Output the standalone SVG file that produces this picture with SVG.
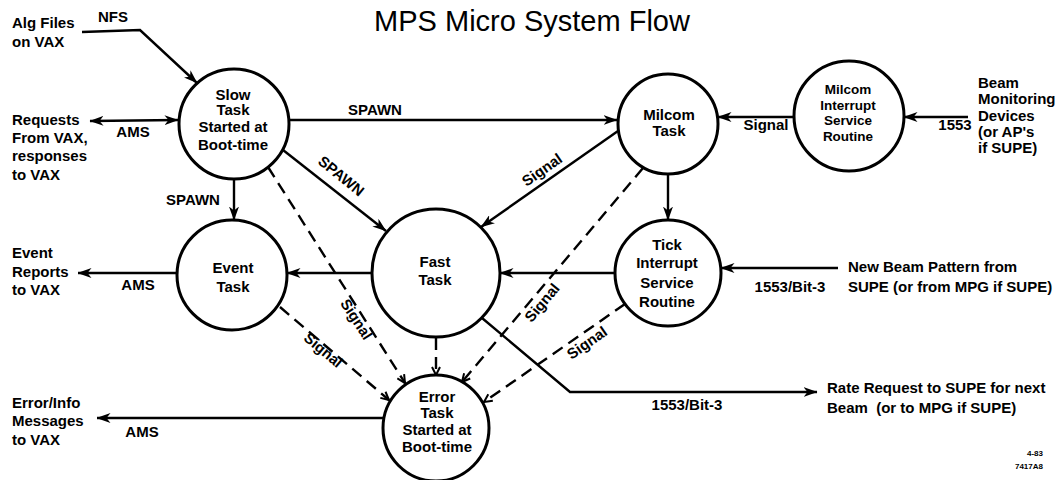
<svg xmlns="http://www.w3.org/2000/svg" width="1055" height="480" viewBox="0 0 1055 480">
<defs>
<style>
text{font-family:"Liberation Sans",Arial,sans-serif;font-weight:bold;font-size:15px;fill:#000}
.c{text-anchor:middle}
.sm{font-size:13.5px}
.node{fill:#fff;stroke:#000;stroke-width:3}
.ln{fill:none;stroke:#000;stroke-width:2.4}
.ds{fill:none;stroke:#000;stroke-width:2.4;stroke-dasharray:12 7}
.title{font-weight:normal;font-size:29px}
.tiny{font-size:8px}
</style>
<marker id="ah" viewBox="0 0 14 10" refX="13.5" refY="5" markerWidth="14" markerHeight="10" markerUnits="userSpaceOnUse" orient="auto-start-reverse">
<path d="M0,0 L14,5 L0,10 L4,5 z" fill="#000"/>
</marker>
<marker id="dh" viewBox="0 0 10 10" refX="9" refY="5" markerWidth="10" markerHeight="10" markerUnits="userSpaceOnUse" orient="auto">
<path d="M1,1 L9,5 L1,9" fill="none" stroke="#000" stroke-width="2"/>
</marker>
</defs>
<rect width="1055" height="480" fill="#fff"/>
<text class="title c" x="532" y="31">MPS Micro System Flow</text>

<g id="connectors">
<polyline class="ln" points="82,32 140,30 197,83" marker-end="url(#ah)"/>
<line class="ln" x1="90" y1="121" x2="178" y2="120" marker-start="url(#ah)" marker-end="url(#ah)"/>
<line class="ln" x1="289" y1="120" x2="617" y2="120" marker-end="url(#ah)"/>
<line class="ln" x1="234" y1="179" x2="234" y2="220" marker-end="url(#ah)"/>
<line class="ln" x1="283" y1="150" x2="386" y2="231" marker-end="url(#ah)"/>
<line class="ln" x1="618" y1="131" x2="481" y2="227" marker-end="url(#ah)"/>
<line class="ln" x1="668" y1="174" x2="668" y2="220" marker-end="url(#ah)"/>
<line class="ln" x1="794" y1="117" x2="718" y2="117" marker-end="url(#ah)"/>
<line class="ln" x1="968" y1="117" x2="904" y2="117" marker-end="url(#ah)"/>
<line class="ln" x1="615" y1="273" x2="500" y2="273" marker-end="url(#ah)"/>
<line class="ln" x1="372" y1="273" x2="287" y2="273" marker-end="url(#ah)"/>
<line class="ln" x1="177" y1="273" x2="78" y2="273" marker-end="url(#ah)"/>
<line class="ln" x1="838" y1="268" x2="721" y2="268" marker-end="url(#ah)"/>
<line class="ln" x1="384" y1="418" x2="97" y2="418" marker-end="url(#ah)"/>
<polyline class="ln" points="482,318 570,392 817,392" marker-end="url(#ah)"/>
<line class="ds" x1="268" y1="167" x2="405" y2="383" marker-end="url(#dh)"/>
<line class="ds" x1="280" y1="307" x2="389" y2="400" marker-end="url(#dh)"/>
<line class="ds" x1="436" y1="338" x2="436" y2="375" marker-end="url(#dh)"/>
<line class="ds" x1="643" y1="168" x2="462" y2="382" marker-end="url(#dh)"/>
<line class="ds" x1="625" y1="304" x2="484" y2="402" marker-end="url(#dh)"/>
</g>

<g id="labels">
<text class="c" x="113" y="22">NFS</text>
<text class="c" x="133" y="137">AMS</text>
<text class="c" x="375" y="115">SPAWN</text>
<text class="c" x="193" y="205">SPAWN</text>
<text class="c" transform="translate(338,180) rotate(39)">SPAWN</text>
<text class="c" transform="translate(545,174) rotate(-35)">Signal</text>
<text class="c" x="766" y="130">Signal</text>
<text class="c" x="955" y="130">1553</text>
<text class="c" x="138" y="290">AMS</text>
<text class="c" x="142" y="437">AMS</text>
<text class="c" x="790" y="292">1553/Bit-3</text>
<text class="c" x="687" y="410">1553/Bit-3</text>
<text class="c" transform="translate(352,322) rotate(57)">Signal</text>
<text class="c" transform="translate(320,354) rotate(40)">Signal</text>
<text class="c" transform="translate(546,306) rotate(-50)">Signal</text>
<text class="c" transform="translate(590,347) rotate(-35)">Signal</text>
</g>

<g id="external-text">
<text x="12" y="28">Alg Files</text>
<text x="12" y="47">on VAX</text>
<text x="12" y="125">Requests</text>
<text x="12" y="143">From VAX,</text>
<text x="12" y="161">responses</text>
<text x="12" y="180">to VAX</text>
<text x="12" y="258">Event</text>
<text x="12" y="277">Reports</text>
<text x="12" y="295">to VAX</text>
<text x="12" y="408">Error/Info</text>
<text x="12" y="426">Messages</text>
<text x="12" y="445">to VAX</text>
<text x="978" y="88">Beam</text>
<text x="978" y="104">Monitoring</text>
<text x="978" y="121">Devices</text>
<text x="978" y="137">(or AP's</text>
<text x="978" y="153">if SUPE)</text>
<text x="848" y="272">New Beam Pattern from</text>
<text x="848" y="292">SUPE (or from MPG if SUPE)</text>
<text x="827" y="393">Rate Request to SUPE for next</text>
<text x="827" y="413" xml:space="preserve">Beam  (or to MPG if SUPE)</text>
<text class="tiny" x="1043" y="456" text-anchor="end">4-83</text>
<text class="tiny" x="1043" y="469" text-anchor="end">7417A8</text>
</g>

<g id="slow-task">
<circle class="node" cx="234" cy="124" r="55"/>
<text class="c" x="233" y="100">Slow</text>
<text class="c" x="233" y="115">Task</text>
<text class="c" x="233" y="132">Started at</text>
<text class="c" x="233" y="150">Boot-time</text>
</g>
<g id="milcom-task">
<circle class="node" cx="668" cy="124" r="50"/>
<text class="c" x="669" y="120">Milcom</text>
<text class="c" x="669" y="136">Task</text>
</g>
<g id="milcom-isr">
<circle class="node" cx="849" cy="116" r="55"/>
<text class="c sm" x="848" y="94">Milcom</text>
<text class="c sm" x="848" y="109.5">Interrupt</text>
<text class="c sm" x="848" y="125">Service</text>
<text class="c sm" x="848" y="140.5">Routine</text>
</g>
<g id="event-task">
<circle class="node" cx="232" cy="275" r="55"/>
<text class="c" x="233" y="273">Event</text>
<text class="c" x="233" y="292">Task</text>
</g>
<g id="fast-task">
<circle class="node" cx="436" cy="273" r="64"/>
<text class="c" x="435" y="267">Fast</text>
<text class="c" x="435" y="285">Task</text>
</g>
<g id="tick-isr">
<circle class="node" cx="668" cy="273" r="53"/>
<text class="c" x="667" y="250">Tick</text>
<text class="c" x="667" y="268">Interrupt</text>
<text class="c" x="667" y="288">Service</text>
<text class="c" x="667" y="307">Routine</text>
</g>
<g id="error-task">
<circle class="node" cx="436" cy="428" r="53"/>
<text class="c" x="437" y="402">Error</text>
<text class="c" x="437" y="418">Task</text>
<text class="c" x="437" y="435">Started at</text>
<text class="c" x="437" y="452">Boot-time</text>
</g>
</svg>
